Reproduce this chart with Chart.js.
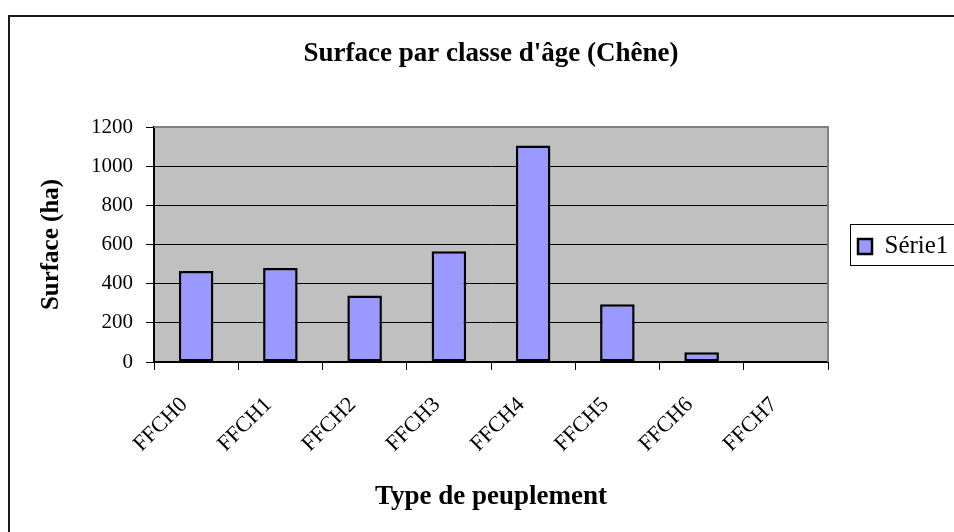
<!DOCTYPE html>
<html>
<head>
<meta charset="utf-8">
<script src="https://cdn.jsdelivr.net/npm/chart.js@4/dist/chart.umd.min.js"></script>
<style>
  html, body { margin: 0; padding: 0; background: #ffffff; }
  canvas { display: block; }
</style>
</head>
<body>
<canvas id="chart" width="954" height="532"></canvas>
<script>
// Surface per age class of oak stands
const categories = ['FFCH0', 'FFCH1', 'FFCH2', 'FFCH3', 'FFCH4', 'FFCH5', 'FFCH6', 'FFCH7'];
const surfaces = [465, 480, 340, 565, 1105, 295, 50, 0];
const yTickValues = [0, 200, 400, 600, 800, 1000, 1200];
const seriesName = 'Série1';
const chartTitle = "Surface par classe d'âge (Chêne)";
const xAxisTitle = 'Type de peuplement';
const yAxisTitle = 'Surface (ha)';

const SERIF = '"Liberation Serif", "Times New Roman", serif';
const PLOT_LEFT = 154, PLOT_RIGHT = 828, PLOT_BOTTOM = 362;

// Frame, grey plot background, plot border and legend box
const decor = {
  id: 'decor',
  beforeDraw(chart) {
    const { ctx, chartArea: a } = chart;
    ctx.save();
    ctx.fillStyle = '#ffffff';
    ctx.fillRect(0, 0, chart.width, chart.height);
    ctx.fillStyle = '#c0c0c0';
    ctx.fillRect(a.left, a.top, a.right - a.left, a.bottom - a.top);
    ctx.strokeStyle = '#1a1a1a';
    ctx.lineWidth = 2;
    ctx.strokeRect(9, 16, chart.width + 20, chart.height + 20);
    ctx.restore();
  },
  afterDatasetsDraw(chart) {
    const { ctx, chartArea: a } = chart;
    ctx.save();
    ctx.strokeStyle = '#808080';
    ctx.lineWidth = 2;
    ctx.beginPath();
    ctx.moveTo(a.left, a.top);
    ctx.lineTo(a.right, a.top);
    ctx.lineTo(a.right, a.bottom);
    ctx.stroke();
    ctx.restore();
  },
  afterLayout(chart) {
    // keep a gap between the plot and the legend
    const lg = chart.legend;
    const w = lg.right - lg.left;
    lg.left = chart.chartArea.right + 20;
    lg.right = lg.left + w;
    lg.top += 2; lg.bottom += 2;
  },
  afterDraw(chart) {
    const { ctx, chartArea: a } = chart;
    const mid = (a.top + a.bottom) / 2;
    ctx.save();
    ctx.strokeStyle = '#000000';
    ctx.lineWidth = 1;
    ctx.strokeRect(a.right + 22.5, Math.round(mid - 21) + 0.5, 200, 41);
    ctx.restore();
  }
};

const chart = new Chart(document.getElementById('chart'), {
  type: 'bar',
  data: {
    labels: categories,
    datasets: [{
      label: seriesName,
      data: surfaces,
      backgroundColor: '#9999ff',
      borderColor: '#000000',
      borderWidth: 2.5,
      borderSkipped: false,
      barPercentage: 0.41,
      categoryPercentage: 1.0
    }]
  },
  options: {
    responsive: false,
    animation: false,
    events: [],
    layout: { padding: { left: 0, right: 12, top: 0, bottom: 0 } },
    plugins: {
      title: {
        display: true,
        text: chartTitle,
        fullSize: false,
        color: '#000000',
        font: { family: SERIF, size: 27, weight: 'bold' },
        padding: { top: 38, bottom: 56.6 }
      },
      legend: {
        position: 'right',
        fullSize: false,
        labels: {
          color: '#000000',
          font: { family: SERIF, size: 25 },
          boxWidth: 14,
          boxHeight: 15,
          padding: 10
        }
      },
      tooltip: { enabled: false }
    },
    scales: {
      x: {
        offset: true,
        grid: {
          offset: true,
          drawOnChartArea: false,
          drawTicks: true,
          tickLength: 8,
          tickColor: '#000000',
          tickWidth: 1
        },
        border: { display: true, color: '#000000', width: 2 },
        ticks: {
          color: '#000000',
          font: { family: SERIF, size: 22 },
          minRotation: 45,
          maxRotation: 45,
          autoSkip: false,
          labelOffset: -12,
          padding: 22
        },
        title: {
          display: true,
          text: xAxisTitle,
          color: '#000000',
          font: { family: SERIF, size: 27, weight: 'bold' },
          padding: { top: 0, bottom: 19 }
        },
        afterFit(scale) { scale.height = 532 - PLOT_BOTTOM; }
      },
      y: {
        min: 0,
        max: 1200,
        afterBuildTicks(scale) { scale.ticks = yTickValues.map(v => ({ value: v })); },
        grid: {
          color: '#000000',
          lineWidth: 1,
          tickLength: 8,
          tickColor: '#000000'
        },
        border: { display: true, color: '#000000', width: 2 },
        ticks: {
          color: '#000000',
          font: { family: SERIF, size: 21 },
          padding: 13,
          callback: (value) => String(value)
        },
        title: {
          display: true,
          text: yAxisTitle,
          color: '#000000',
          font: { family: SERIF, size: 25, weight: 'bold' },
          padding: { top: 37, bottom: 0 }
        },
        afterFit(scale) { scale.width = PLOT_LEFT; }
      }
    }
  },
  plugins: [decor]
});

// make the plot end at PLOT_RIGHT whatever the legend width
const rightPad = Math.max(0, chart.width - PLOT_RIGHT - chart.legend.width);
chart.options.layout.padding.right = rightPad;
chart.update();
</script>
</body>
</html>
